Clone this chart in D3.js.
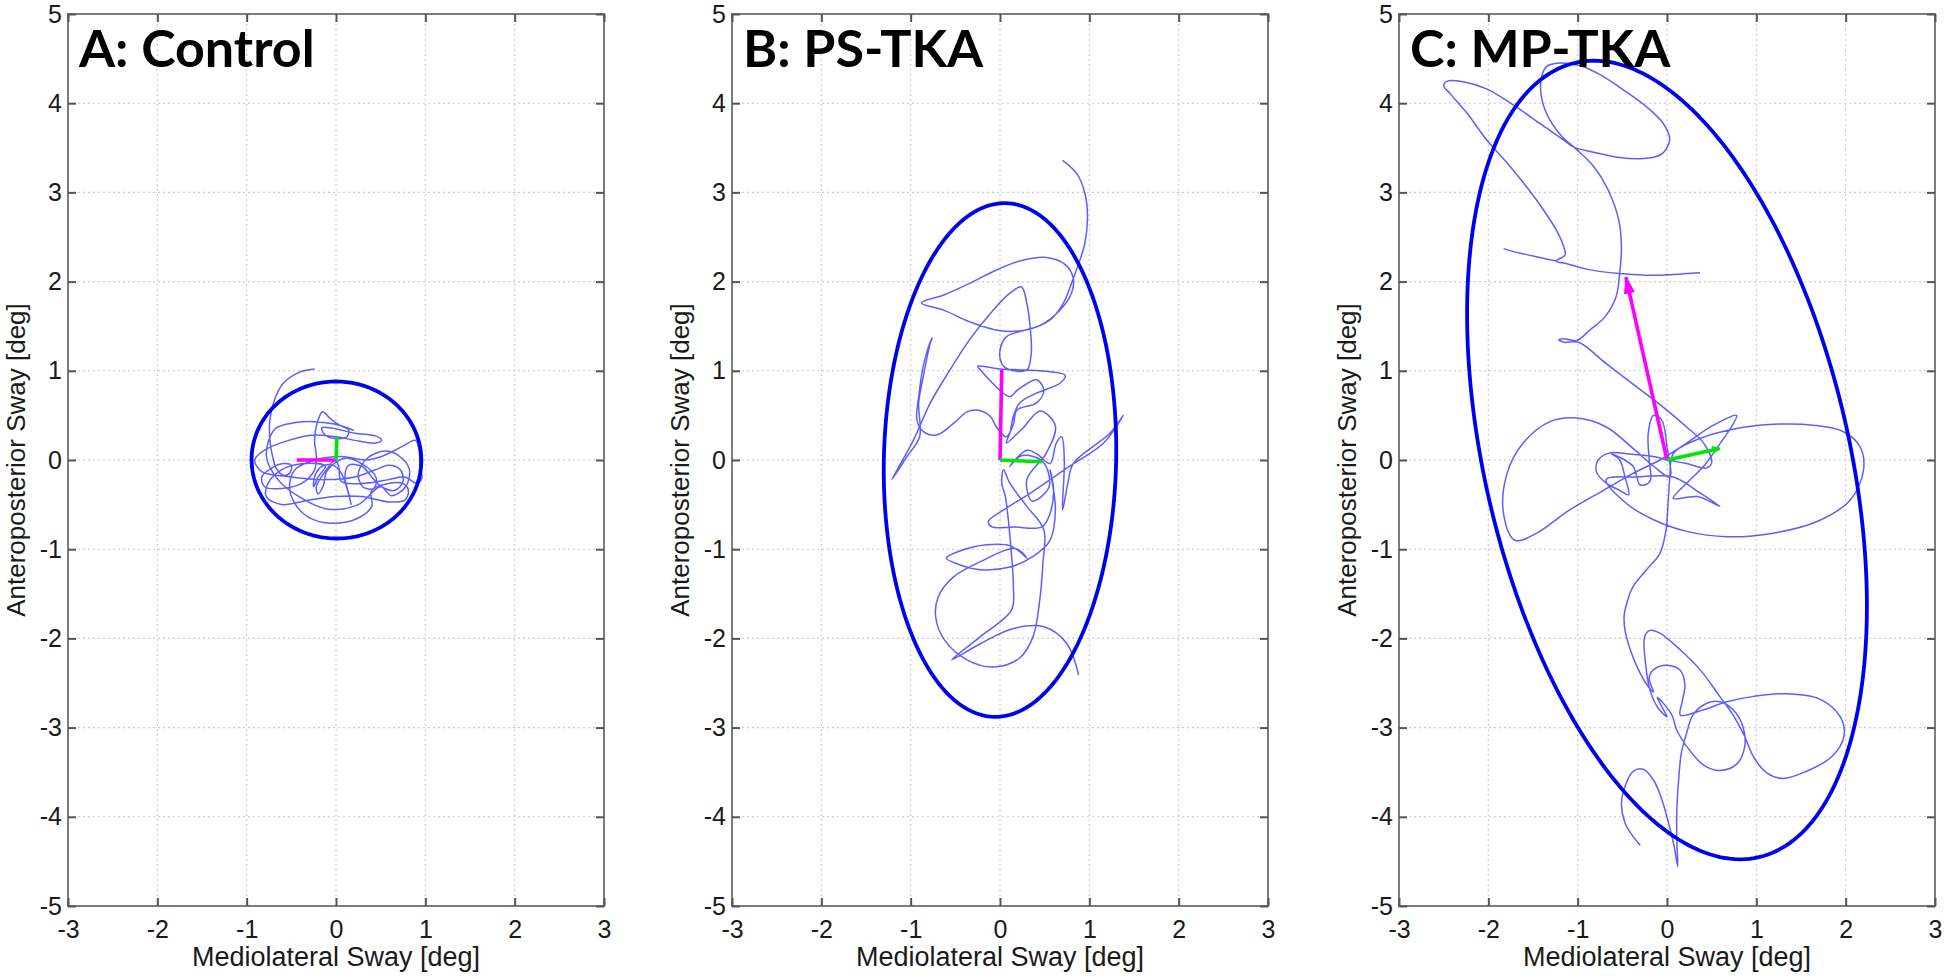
<!DOCTYPE html>
<html><head><meta charset="utf-8">
<script src="https://cdn.jsdelivr.net/npm/d3@7"></script>
<style>body{margin:0;background:#fff;} svg{display:block;}</style>
</head><body>
<svg id="chart" width="1944" height="979"></svg>
<script>
// ---------------- data ----------------
const xTicks = [-3,-2,-1,0,1,2,3];
const yTicks = [-5,-4,-3,-2,-1,0,1,2,3,4,5];
const panelTitles = ["A: Control","B: PS-TKA","C: MP-TKA"];
const xLabel = "Mediolateral Sway [deg]";
const yLabel = "Anteroposterior Sway [deg]";

// 95% ellipses: centre, semi-major, semi-minor, major-axis angle (deg from +x)
const ellipseA = {cx:0.005, cy:0.0, a:0.95, b:0.88, angle:-2};
const ellipseB = {cx:0.0, cy:0.0, a:2.88, b:1.30, angle:88.7};
const ellipseC = {cx:0.0, cy:0.0, a:4.57, b:2.04, angle:103};

// principal-axis vectors from the origin
const majorA = [-0.44, 0.00], minorA = [0.01, 0.26];
const majorB = [0.02, 1.01],  minorB = [0.47, -0.02];
const majorC = [-0.46, 2.05], minorC = [0.59, 0.13];

// centre-of-pressure sway paths [ML, AP] in degrees
const pathA = [[-0.24,1.02],[-0.42,0.98],[-0.59,0.86],[-0.69,0.67],[-0.74,0.45],[-0.74,0.22],[-0.71,0.04],[-0.67,-0.09],[-0.59,-0.17],[-0.52,-0.15],[-0.50,-0.06],[-0.59,-0.04],[-0.72,-0.09],[-0.83,-0.19],[-0.80,-0.30],[-0.61,-0.32],[-0.38,-0.26],[-0.24,-0.11],[-0.22,0.04],[-0.24,0.22],[-0.20,0.45],[-0.15,0.54],[-0.07,0.47],[0.04,0.39],[0.14,0.34],[0.12,0.26],[-0.01,0.24],[-0.12,0.28],[-0.16,0.36],[-0.05,0.36],[0.21,0.30],[0.44,0.27],[0.51,0.22],[0.44,0.19],[0.21,0.22],[0.06,0.25],[-0.24,0.28],[-0.53,0.22],[-0.80,0.11],[-0.91,0.00],[-0.83,-0.13],[-0.50,-0.19],[-0.12,-0.22],[0.21,-0.19],[0.44,-0.11],[0.59,-0.06],[0.72,-0.11],[0.75,-0.24],[0.66,-0.34],[0.51,-0.30],[0.40,-0.19],[0.29,-0.07],[0.14,-0.06],[0.10,-0.19],[0.14,-0.37],[0.17,-0.50],[0.13,-0.34],[0.06,-0.15],[-0.03,-0.06],[-0.16,-0.07],[-0.24,-0.19],[-0.25,-0.30],[-0.20,-0.19],[-0.12,-0.07],[-0.35,-0.04],[-0.61,-0.11],[-0.76,-0.26],[-0.78,-0.41],[-0.61,-0.50],[-0.31,-0.45],[-0.01,-0.41],[0.29,-0.41],[0.59,-0.47],[0.77,-0.45],[0.81,-0.34],[0.74,-0.26],[0.40,-0.34],[0.40,-0.52],[0.25,-0.65],[-0.05,-0.71],[-0.31,-0.64],[-0.46,-0.49],[-0.52,-0.30],[-0.46,-0.11],[-0.24,0.00],[0.06,0.04],[0.33,0.00],[0.51,0.04],[0.74,0.15],[0.89,0.22],[0.93,0.11],[0.94,-0.07],[0.96,-0.21],[0.90,-0.26],[0.77,-0.19],[0.59,-0.22],[0.33,-0.26],[0.06,-0.24],[0.03,-0.07],[-0.01,0.00],[-0.10,-0.10],[-0.22,-0.30],[-0.20,-0.38],[-0.14,-0.28],[-0.10,-0.12],[0.10,0.02],[0.30,-0.05],[0.45,-0.20],[0.42,-0.32],[0.30,-0.30],[0.25,-0.15],[0.35,0.02],[0.55,0.10],[0.70,0.05],[0.82,-0.10],[0.78,-0.30],[0.62,-0.40],[0.50,-0.30],[0.25,-0.50],[-0.10,-0.55],[-0.40,-0.42],[-0.65,-0.22],[-0.78,0.05],[-0.68,0.35],[-0.45,0.42],[-0.24,0.43],[0.00,0.40],[0.20,0.33]];

const pathB = [[0.70,3.36],[0.86,3.21],[0.95,2.99],[0.98,2.73],[0.95,2.43],[0.88,2.20],[0.80,1.98],[0.71,1.76],[0.56,1.57],[0.30,1.46],[0.00,1.45],[-0.34,1.55],[-0.63,1.68],[-0.88,1.76],[-0.63,1.85],[-0.34,1.98],[-0.04,2.13],[0.22,2.23],[0.52,2.27],[0.73,2.19],[0.82,2.04],[0.80,1.87],[0.67,1.68],[0.45,1.51],[0.22,1.44],[0.07,1.38],[0.00,1.23],[0.02,1.08],[0.11,1.01],[0.30,1.01],[0.35,1.20],[0.34,1.46],[0.30,1.76],[0.24,1.94],[0.11,1.87],[-0.11,1.64],[-0.34,1.35],[-0.56,1.01],[-0.78,0.64],[-0.97,0.22],[-1.21,-0.22],[-1.04,0.04],[-0.90,0.26],[-0.91,0.64],[-0.86,0.93],[-0.78,1.31],[-0.76,1.37],[-0.80,1.27],[-0.86,1.05],[-0.91,0.71],[-0.93,0.45],[-0.86,0.32],[-0.71,0.28],[-0.52,0.41],[-0.37,0.54],[-0.26,0.56],[-0.11,0.49],[-0.04,0.37],[0.07,0.26],[0.15,0.40],[0.19,0.56],[0.41,0.64],[0.49,0.78],[0.41,0.90],[0.19,0.78],[0.11,0.71],[-0.22,1.01],[-0.25,1.05],[-0.19,1.05],[0.00,1.02],[0.26,1.01],[0.56,0.99],[0.73,0.95],[0.67,0.86],[0.41,0.75],[0.22,0.64],[0.15,0.49],[0.11,0.30],[0.07,0.19],[0.25,0.35],[0.45,0.55],[0.62,0.38],[0.52,0.08],[0.30,-0.22],[0.36,-0.46],[0.55,-0.30],[0.48,-0.02],[0.25,0.05],[0.11,-0.07],[0.30,0.11],[0.41,0.07],[0.56,-0.04],[0.63,0.19],[0.69,0.26],[0.72,0.00],[0.70,-0.56],[0.76,-0.26],[0.82,-0.04],[1.23,0.30],[1.38,0.50],[1.16,0.19],[0.78,-0.07],[0.34,-0.37],[0.04,-0.56],[-0.13,-0.69],[-0.09,-0.75],[0.15,-0.75],[0.47,-0.75],[0.56,-0.60],[0.60,-0.34],[0.56,-0.11],[0.62,-0.55],[0.56,-0.90],[0.37,-1.08],[0.11,-1.20],[-0.22,-1.23],[-0.49,-1.16],[-0.60,-1.10],[-0.45,-1.02],[-0.15,-0.95],[0.11,-0.96],[0.26,-1.06],[0.30,-1.10],[0.24,-1.03],[0.15,-0.99],[-0.22,-1.14],[-0.52,-1.31],[-0.69,-1.53],[-0.72,-1.76],[-0.62,-2.02],[-0.37,-2.24],[-0.07,-2.32],[0.22,-2.22],[0.37,-1.98],[0.44,-1.61],[0.48,-1.16],[0.49,-0.78],[0.30,-0.52],[0.11,-0.26],[0.04,-0.11],[0.02,-0.26],[0.06,-0.41],[0.09,-0.64],[0.13,-1.08],[0.15,-1.42],[0.13,-1.68],[-0.22,-1.98],[-0.54,-2.24],[-0.22,-2.06],[0.15,-1.89],[0.49,-1.87],[0.75,-2.06],[0.88,-2.41]];

const pathC = [[0.37,2.10],[0.07,2.08],[-0.15,2.07],[-0.53,2.09],[-0.90,2.14],[-1.12,2.20],[-1.24,2.23],[-1.14,2.30],[-1.17,2.43],[-1.24,2.58],[-1.38,2.80],[-1.57,3.06],[-1.79,3.33],[-2.02,3.59],[-2.24,3.89],[-2.43,4.11],[-2.50,4.20],[-2.45,4.25],[-2.28,4.24],[-2.02,4.16],[-1.72,3.98],[-1.42,3.77],[-1.16,3.59],[-1.05,3.51],[-0.82,3.45],[-0.53,3.39],[-0.26,3.38],[-0.06,3.43],[0.03,3.59],[-0.04,3.77],[-0.23,3.96],[-0.49,4.15],[-0.75,4.32],[-0.97,4.42],[-1.20,4.45],[-1.35,4.41],[-1.41,4.26],[-1.40,4.04],[-1.31,3.81],[-1.16,3.61],[-1.01,3.48],[-0.82,3.29],[-0.66,3.03],[-0.54,2.69],[-0.51,2.39],[-0.53,2.09],[-0.57,1.83],[-0.69,1.61],[-0.86,1.46],[-1.01,1.34],[-1.16,1.36],[-1.21,1.35],[-1.15,1.32],[-0.99,1.32],[-0.68,1.08],[-0.34,0.82],[-0.04,0.59],[0.22,0.37],[0.41,0.19],[0.50,-0.03],[0.44,-0.09],[0.22,-0.04],[0.01,0.00],[-0.15,0.04],[-0.45,0.07],[-0.64,0.08],[-0.77,0.00],[-0.79,-0.13],[-0.68,-0.26],[-0.53,-0.34],[-0.43,-0.39],[-0.47,-0.19],[-0.53,0.00],[-0.62,0.07],[-0.38,-0.07],[-0.30,-0.28],[-0.19,-0.24],[-0.20,0.00],[-0.21,0.30],[-0.15,0.50],[-0.06,0.45],[0.00,0.15],[0.03,-0.19],[-0.15,-0.07],[-0.38,0.13],[-0.68,0.37],[-1.01,0.47],[-1.31,0.43],[-1.61,0.19],[-1.79,-0.15],[-1.83,-0.60],[-1.70,-0.90],[-1.46,-0.82],[-1.09,-0.56],[-0.71,-0.34],[-0.38,-0.15],[-0.08,0.00],[0.22,0.19],[0.52,0.39],[0.78,0.50],[0.72,0.37],[0.57,0.15],[0.41,-0.07],[0.22,-0.26],[0.07,-0.43],[0.34,-0.41],[0.59,-0.52],[0.37,-0.37],[0.07,-0.19],[-0.34,-0.19],[-0.68,-0.22],[-0.45,-0.49],[-0.15,-0.67],[0.22,-0.80],[0.67,-0.86],[1.19,-0.82],[1.68,-0.69],[2.05,-0.45],[2.20,-0.11],[2.16,0.15],[1.97,0.32],[1.64,0.39],[1.19,0.40],[0.71,0.34],[0.29,0.21],[0.07,0.07],[0.03,-0.22],[0.01,-0.52],[-0.01,-0.78],[-0.08,-1.05],[-0.23,-1.23],[-0.38,-1.42],[-0.46,-1.64],[-0.48,-1.75],[-0.47,-1.91],[-0.41,-2.13],[-0.32,-2.35],[-0.21,-2.54],[-0.15,-2.60],[-0.20,-2.45],[-0.15,-2.35],[0.00,-2.30],[0.15,-2.36],[0.20,-2.52],[0.17,-2.71],[0.15,-2.86],[0.41,-2.80],[0.67,-2.71],[0.97,-2.65],[1.34,-2.62],[1.71,-2.68],[1.94,-2.88],[1.98,-3.10],[1.84,-3.33],[1.56,-3.49],[1.30,-3.57],[1.12,-3.51],[0.97,-3.33],[0.87,-3.10],[0.74,-2.86],[0.59,-2.65],[0.37,-2.35],[0.15,-2.13],[-0.08,-1.94],[-0.19,-1.91],[-0.25,-1.98],[-0.24,-2.28],[-0.19,-2.58],[-0.10,-2.78],[0.00,-2.88],[-0.04,-2.80],[-0.11,-2.66],[0.05,-2.85],[0.11,-3.03],[0.22,-3.21],[0.41,-3.42],[0.59,-3.48],[0.78,-3.41],[0.87,-3.21],[0.85,-2.99],[0.74,-2.80],[0.59,-2.71],[0.44,-2.73],[0.29,-2.86],[0.22,-3.06],[0.16,-3.29],[0.13,-3.59],[0.11,-3.92],[0.11,-4.26],[0.12,-4.56],[0.08,-4.33],[0.01,-4.04],[-0.07,-3.77],[-0.15,-3.59],[-0.26,-3.47],[-0.38,-3.49],[-0.47,-3.66],[-0.51,-3.85],[-0.47,-4.07],[-0.38,-4.22],[-0.30,-4.32],null,[-1.83,2.37],[-1.65,2.32],[-1.42,2.27],[-1.24,2.23]];

// ---------------- layout ----------------
const panelLeft = [68, 732, 1399];
const panelTop = 14, pw = 536, ph = 892;
const FONT = "'Liberation Sans', Arial, sans-serif";

const panels = [
  {title:panelTitles[0], path:pathA, ell:ellipseA, major:majorA, minor:minorA, heads:false},
  {title:panelTitles[1], path:pathB, ell:ellipseB, major:majorB, minor:minorB, heads:false},
  {title:panelTitles[2], path:pathC, ell:ellipseC, major:majorC, minor:minorC, heads:true}
];

const svg = d3.select("#chart");
svg.append("rect").attr("width",1944).attr("height",979).attr("fill","#fff");

function ellipsePoints(e){
  const th = e.angle*Math.PI/180, pts=[];
  const ux=Math.cos(th), uy=Math.sin(th), vx=-Math.sin(th), vy=Math.cos(th);
  for(let i=0;i<=240;i++){
    const t=i/240*2*Math.PI;
    pts.push([e.cx+e.a*Math.cos(t)*ux+e.b*Math.sin(t)*vx, e.cy+e.a*Math.cos(t)*uy+e.b*Math.sin(t)*vy]);
  }
  return pts;
}

panels.forEach((p,i)=>{
  const g = svg.append("g").attr("transform",`translate(${panelLeft[i]},${panelTop})`);
  const x = d3.scaleLinear().domain([-3,3]).range([0,pw]);
  const y = d3.scaleLinear().domain([-5,5]).range([ph,0]);

  // grid
  const grid = g.append("g").attr("stroke","#c9c9c9").attr("stroke-width",1.1).attr("stroke-dasharray","2,3");
  grid.selectAll(".gx").data(xTicks.slice(1,-1)).join("line")
    .attr("x1",d=>x(d)).attr("x2",d=>x(d)).attr("y1",0).attr("y2",ph);
  grid.selectAll(".gy").data(yTicks.slice(1,-1)).join("line")
    .attr("y1",d=>y(d)).attr("y2",d=>y(d)).attr("x1",0).attr("x2",pw);

  const clipId = "clip"+i;
  g.append("clipPath").attr("id",clipId).append("rect").attr("width",pw).attr("height",ph);
  const plot = g.append("g").attr("clip-path",`url(#${clipId})`);

  const line = d3.line().defined(d=>d!=null).x(d=>x(d[0])).y(d=>y(d[1])).curve(d3.curveCatmullRom.alpha(0.5));
  plot.append("path").attr("d",line(p.path)).attr("fill","none")
    .attr("stroke","#1a1aff").attr("stroke-opacity",0.7).attr("stroke-width",1.5).attr("stroke-linejoin","round");

  const eline = d3.line().x(d=>x(d[0])).y(d=>y(d[1]));
  plot.append("path").attr("d",eline(ellipsePoints(p.ell))).attr("fill","none")
    .attr("stroke","#0000f0").attr("stroke-width",3.8);

  // vectors
  [[p.major,"#ff00ff"],[p.minor,"#00e600"]].forEach(([v,c],k)=>{
    plot.append("line").attr("x1",x(0)).attr("y1",y(0)).attr("x2",x(v[0])).attr("y2",y(v[1]))
      .attr("stroke",c).attr("stroke-width",3.6);
    if(p.heads){
      const x0=x(0),y0=y(0),x1=x(v[0]),y1=y(v[1]);
      const L=Math.hypot(x1-x0,y1-y0), ux=(x1-x0)/L, uy=(y1-y0)/L;
      const hl = k===0?16:7, hw = k===0?5:3.5;
      const bx=x1-ux*hl, by=y1-uy*hl;
      plot.append("path").attr("d",`M${x1},${y1}L${bx-uy*hw},${by+ux*hw}L${bx+uy*hw},${by-ux*hw}Z`)
        .attr("fill",c).attr("stroke",c).attr("stroke-width",1);
    }
  });

  // box
  g.append("rect").attr("width",pw).attr("height",ph).attr("fill","none").attr("stroke","#7c7c7c").attr("stroke-width",2);

  const fmt = d=>String(d);
  const styleAxis = sel=>{
    sel.select(".domain").remove();
    sel.selectAll(".tick line").attr("stroke","#555").attr("stroke-width",2);
    sel.selectAll(".tick text").attr("fill","#1a1a1a").style("font-family",FONT).style("font-size","25px");
  };
  g.append("g").attr("transform",`translate(0,${ph})`)
    .call(d3.axisBottom(x).tickValues(xTicks).tickFormat(fmt).tickSizeInner(-8).tickSizeOuter(0).tickPadding(14)).call(styleAxis);
  g.append("g")
    .call(d3.axisTop(x).tickValues(xTicks).tickFormat("").tickSizeInner(-8).tickSizeOuter(0)).call(styleAxis);
  g.append("g")
    .call(d3.axisLeft(y).tickValues(yTicks).tickFormat(fmt).tickSizeInner(-8).tickSizeOuter(0).tickPadding(6)).call(styleAxis);
  g.append("g").attr("transform",`translate(${pw},0)`)
    .call(d3.axisRight(y).tickValues(yTicks).tickFormat("").tickSizeInner(-8).tickSizeOuter(0)).call(styleAxis);

  // labels
  g.append("text").attr("x",pw/2).attr("y",952).attr("text-anchor","middle")
    .style("font-family",FONT).style("font-size","27px").attr("fill","#1a1a1a").text(xLabel);
  g.append("text").attr("transform",`translate(-43,${ph/2}) rotate(-90)`).attr("text-anchor","middle")
    .style("font-family",FONT).style("font-size","26px").attr("fill","#1a1a1a").text(yLabel);
  g.append("text").attr("x",11).attr("y",53)
    .style("font-family","Lato, 'Open Sans', sans-serif").style("font-weight","700").style("font-size","52px")
    .attr("fill","#000").text(p.title);
});
</script>
</body></html>
